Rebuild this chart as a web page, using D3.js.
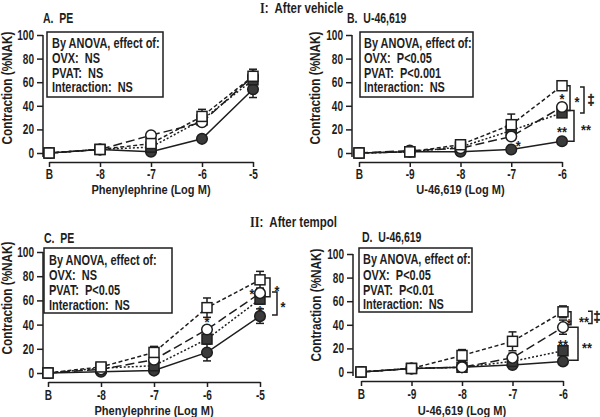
<!DOCTYPE html>
<html><head><meta charset="utf-8">
<script src="https://cdn.jsdelivr.net/npm/d3@7"></script>
<style>body{margin:0;background:#fff}svg{display:block}text{white-space:pre}</style>
</head><body>
<svg id="c" width="600" height="417"></svg>
<script>
// ---------- data ----------
const peDoses = ["B", "-8", "-7", "-6", "-5"];
const uDoses = ["B", "-9", "-8", "-7", "-6"];
const yTicks = [0, 20, 40, 60, 80, 100];

// Panel A: PE after vehicle
const aOpenSq = [0, 3, 8, 31, 65];      const aOpenSqErr = [0, 1, 2, 6, 6];
const aOpenCi = [0, 3, 15, 26, 65];     const aOpenCiErr = [0, 1, 2, 3, 4];
const aFillSq = [0, 3, 5, 28, 62];      const aFillSqErr = [0, 1, 1, 3, 4];
const aFillCi = [0, 3, 1, 12, 54];      const aFillCiErr = [0, 1, 1, 2, 7];
// Panel B: U-46,619 after vehicle
const bOpenSq = [0, 1, 7, 24, 57];      const bOpenSqErr = [0, 1, 1, 9, 2];
const bOpenCi = [0, 2, 4, 14, 39];      const bOpenCiErr = [0, 1, 1, 3, 3];
const bFillSq = [0, 1, 5, 19, 34];      const bFillSqErr = [0, 1, 1, 3, 3];
const bFillCi = [0, 1, 1, 3, 10];       const bFillCiErr = [0, 0, 0, 1, 1];
// Panel C: PE after tempol
const cOpenSq = [0, 5, 17, 54, 77];     const cOpenSqErr = [0, 1, 5, 8, 7];
const cOpenCi = [0, 3, 11, 36, 66];     const cOpenCiErr = [0, 1, 2, 3, 4];
const cFillSq = [0, 4, 6, 28, 61];      const cFillSqErr = [0, 1, 2, 3, 4];
const cFillCi = [0, 1, 2, 17, 47];      const cFillCiErr = [0, 1, 1, 7, 6];
// Panel D: U-46,619 after tempol
const dOpenSq = [0, 3, 14, 26, 51];     const dOpenSqErr = [0, 1, 5, 8, 5];
const dOpenCi = [0, 3, 4, 12, 38];      const dOpenCiErr = [0, 1, 1, 4, 6];
const dFillSq = [0, 3, 4, 9, 18];       const dFillSqErr = [0, 1, 1, 2, 3];
const dFillCi = [0, 3, 4, 6, 9];        const dFillCiErr = [0, 1, 1, 1, 2];

const anovaA = ["By ANOVA, effect of:", "OVX:  NS", "PVAT:  NS", "Interaction:  NS"];
const anovaB = ["By ANOVA, effect of:", "OVX:  P<0.05", "PVAT:  P<0.001", "Interaction:  NS"];
const anovaC = ["By ANOVA, effect of:", "OVX:  NS", "PVAT:  P<0.05", "Interaction:  NS"];
const anovaD = ["By ANOVA, effect of:", "OVX:  P<0.05", "PVAT:  P<0.01", "Interaction:  NS"];

// ---------- styles ----------
const INK = "#1e1e1e", FILL = "#3a3a3a";
const SANS = "'Liberation Sans', Arial, Helvetica, sans-serif";
const SERIF = "'Liberation Serif', 'Times New Roman', serif";
const SX = 0.75;

const svg = d3.select("#c");

function txt(g, x, y, s, size, anchor, sx, rot, fam) {
  return g.append("text")
    .attr("transform", `translate(${x},${y})${rot ? " rotate(" + rot + ")" : ""} scale(${sx || SX},1)`)
    .attr("font-family", fam || SANS).attr("font-weight", "bold")
    .attr("font-size", size).attr("fill", INK)
    .attr("text-anchor", anchor || "start").text(s);
}

const seriesStyle = {
  fillCi: { dash: null, shape: "circle", fill: FILL },
  fillSq: { dash: "2,2", shape: "square", fill: FILL },
  openCi: { dash: "9,4", shape: "circle", fill: "#fff" },
  openSq: { dash: "4,2.5", shape: "square", fill: "#fff" }
};

const panels = [
  { cats: peDoses, title: "A.  PE", xTitle: "Phenylephrine (Log M)", anova: anovaA,
    series: { fillCi: [aFillCi, aFillCiErr], fillSq: [aFillSq, aFillSqErr], openCi: [aOpenCi, aOpenCiErr], openSq: [aOpenSq, aOpenSqErr] },
    L: { ax: 43, x0: 49, x1: 253, y0: 153, y100: 35, xAxisY: 162, titleX: 43, titleY: 23,
         box: [47, 32, 163, 97], textX: 52, textY: [48, 63, 77.5, 92], tickPad: 2, xTitleY: 194, yTitleX: 12, yTitleY: 88 },
    stars: [], brackets: [] },
  { cats: uDoses, title: "B.  U-46,619", xTitle: "U-46,619 (Log M)", anova: anovaB,
    series: { fillCi: [bFillCi, bFillCiErr], fillSq: [bFillSq, bFillSqErr], openCi: [bOpenCi, bOpenCiErr], openSq: [bOpenSq, bOpenSqErr] },
    L: { ax: 352, x0: 359, x1: 562, y0: 153, y100: 35, xAxisY: 162, titleX: 347, titleY: 23,
         box: [360, 32, 473, 97], textX: 364, textY: [48, 63, 77.5, 92], tickPad: 2, xTitleY: 194, yTitleX: 320, yTitleY: 88 },
    stars: [ { i: 4, dx: 0, v: 49, s: "*" }, { i: 3, dx: 7, v: 9, s: "*" }, { i: 4, dx: 0, v: 21, s: "**" } ],
    brackets: [ { i: 4, dx: 8, v1: 57, v2: 36, arm: 3, s: "*", ldx: 7 },
                { i: 4, dx: 12, v1: 36, v2: 10, arm: 6, s: "**", ldx: 12 },
                { i: 4, dx: 22, v1: 56, v2: 34, arm: 4, s: "\u2021", ldx: 7 } ] },
  { cats: peDoses, title: "C.  PE", xTitle: "Phenylephrine (Log M)", anova: anovaC,
    series: { fillCi: [cFillCi, cFillCiErr], fillSq: [cFillSq, cFillSqErr], openCi: [cOpenCi, cOpenCiErr], openSq: [cOpenSq, cOpenSqErr] },
    L: { ax: 43, x0: 48, x1: 260, y0: 373, y100: 252, xAxisY: 382, titleX: 44, titleY: 243,
         box: [44, 248, 172, 313], textX: 49, textY: [265, 280, 295, 310], tickPad: 3, xTitleY: 415, yTitleX: 12, yTitleY: 298 },
    stars: [ { i: 3, dx: 0, v: 45.5, s: "*" }, { i: 4, dx: -8, v: 69, s: "*" }, { i: 4, dx: 0, v: 54.5, s: "*" } ],
    brackets: [ { i: 4, dx: 10, v1: 78.5, v2: 63, arm: 5, s: "*", ldx: 7 },
                { i: 4, dx: 17, v1: 67, v2: 48, arm: 5, s: "*", ldx: 6 } ] },
  { cats: uDoses, title: "D.  U-46,619", xTitle: "U-46,619 (Log M)", anova: anovaD,
    series: { fillCi: [dFillCi, dFillCiErr], fillSq: [dFillSq, dFillSqErr], openCi: [dOpenCi, dOpenCiErr], openSq: [dOpenSq, dOpenSqErr] },
    L: { ax: 353, x0: 361, x1: 563, y0: 372, y100: 254, xAxisY: 381, titleX: 362, titleY: 242,
         box: [359, 248, 472, 312], textX: 363, textY: [264, 280, 295, 309], tickPad: 3, xTitleY: 415, yTitleX: 321, yTitleY: 305 },
    stars: [ { i: 4, dx: 6, v: 44, s: "*" }, { i: 4, dx: 0, v: 26, s: "**" } ],
    brackets: [ { i: 4, dx: 8, v1: 51, v2: 40, arm: 3, s: "**", ldx: 13 },
                { i: 4, dx: 15, v1: 38, v2: 10, arm: 9, s: "**", ldx: 9 },
                { i: 4, dx: 29, v1: 51.5, v2: 41, arm: 4, s: "\u2021", ldx: 5 } ] }
];

// headers
function header(x, y, roman, rest) {
  const t = svg.append("text").attr("transform", `translate(${x},${y}) scale(0.82,1)`)
    .attr("font-weight", "bold").attr("fill", INK);
  t.append("tspan").attr("font-family", SERIF).attr("font-size", 15).text(roman);
  t.append("tspan").attr("font-family", SANS).attr("font-size", 14).text(rest);
}
header(260, 13, "I", ":  After vehicle");
header(250, 227, "II", ":  After tempol");

panels.forEach(P => {
  const L = P.L;
  const g = svg.append("g");
  const x = d3.scalePoint().domain(P.cats).range([L.x0, L.x1]).padding(0);
  const y = d3.scaleLinear().domain([0, 100]).range([L.y0, L.y100]);

  // y axis
  const ya = g.append("g").attr("transform", `translate(${L.ax},0)`)
    .call(d3.axisLeft(y).tickValues(yTicks).tickSize(6).tickSizeOuter(0));
  ya.select(".domain").attr("d", `M0,${L.y100}V${L.y0 + 4}`);
  ya.selectAll("line, path").attr("stroke", INK).attr("stroke-width", 1.5);
  ya.selectAll("text").attr("font-family", SANS).attr("font-weight", "bold").attr("font-size", 14)
    .attr("fill", INK).attr("x", -9 / 0.72).attr("transform", "scale(0.72,1)");

  // x axis
  const xa = g.append("g").attr("transform", `translate(0,${L.xAxisY})`)
    .call(d3.axisBottom(x).tickSize(5).tickPadding(L.tickPad).tickSizeOuter(0));
  xa.selectAll("line, path").attr("stroke", INK).attr("stroke-width", 1.5);
  xa.selectAll("text").attr("font-family", SANS).attr("font-weight", "bold").attr("font-size", 14)
    .attr("fill", INK).attr("transform", "scale(0.72,1)");

  // titles
  txt(g, L.titleX, L.titleY, P.title, 14, "start", 0.75);
  txt(g, (L.x0 + L.x1) / 2, L.xTitleY, P.xTitle, 13.5, "middle", 0.82);
  txt(g, L.yTitleX, L.yTitleY, "Contraction (%NAK)", 14, "middle", 0.84, -90);

  // ANOVA box
  const b = L.box;
  g.append("rect").attr("x", b[0]).attr("y", b[1]).attr("width", b[2] - b[0]).attr("height", b[3] - b[1])
    .attr("fill", "#fff").attr("stroke", INK).attr("stroke-width", 1.5);
  P.anova.forEach((s, k) => txt(g, L.textX, L.textY[k], s, 15, "start", 0.73));

  const order = ["fillCi", "fillSq", "openCi", "openSq"];
  // lines
  order.forEach(key => {
    const st = seriesStyle[key], vals = P.series[key][0];
    const line = d3.line().x((d, i) => x(P.cats[i])).y(d => y(d));
    g.append("path").datum(vals).attr("d", line).attr("fill", "none")
      .attr("stroke", INK).attr("stroke-width", 1.5)
      .attr("stroke-dasharray", st.dash);
  });
  // error bars
  order.forEach(key => {
    const [vals, errs] = P.series[key];
    vals.forEach((v, i) => {
      const e = errs[i];
      if (!e) return;
      const cx = x(P.cats[i]);
      const eb = g.append("g").attr("stroke", INK).attr("stroke-width", 1.5);
      eb.append("line").attr("x1", cx).attr("x2", cx).attr("y1", y(v - e)).attr("y2", y(v + e));
      eb.append("line").attr("x1", cx - 4).attr("x2", cx + 4).attr("y1", y(v + e)).attr("y2", y(v + e));
      eb.append("line").attr("x1", cx - 4).attr("x2", cx + 4).attr("y1", y(v - e)).attr("y2", y(v - e));
    });
  });
  // markers
  order.forEach(key => {
    const st = seriesStyle[key], vals = P.series[key][0];
    vals.forEach((v, i) => {
      const cx = x(P.cats[i]), cy = y(v);
      if (st.shape === "circle") {
        g.append("circle").attr("cx", cx).attr("cy", cy).attr("r", 5.3)
          .attr("fill", st.fill).attr("stroke", INK).attr("stroke-width", 1.5);
      } else {
        g.append("rect").attr("x", cx - 5).attr("y", cy - 5).attr("width", 10).attr("height", 10)
          .attr("fill", st.fill).attr("stroke", INK).attr("stroke-width", 1.5);
      }
    });
  });

  // significance stars
  P.stars.forEach(s => {
    txt(g, x(P.cats[s.i]) + s.dx, y(s.v) + 9, s.s, 15, "middle", 0.85);
  });
  // brackets
  P.brackets.forEach(br => {
    const bx = x(P.cats[br.i]) + br.dx, y1 = y(br.v1), y2 = y(br.v2);
    g.append("path").attr("d", `M${bx - br.arm},${y1}H${bx}V${y2}H${bx - br.arm}`)
      .attr("fill", "none").attr("stroke", INK).attr("stroke-width", 1.5);
    const my = (y1 + y2) / 2;
    if (br.s === "\u2021") {
      txt(g, bx + br.ldx, my + 5, br.s, 14, "middle", 0.9)
        .attr("stroke", INK).attr("stroke-width", 0.5).style("opacity", 0.999);
    } else {
      txt(g, bx + br.ldx, my + 9, br.s, 15, "middle", 0.85);
    }
  });
});
</script>
</body></html>
